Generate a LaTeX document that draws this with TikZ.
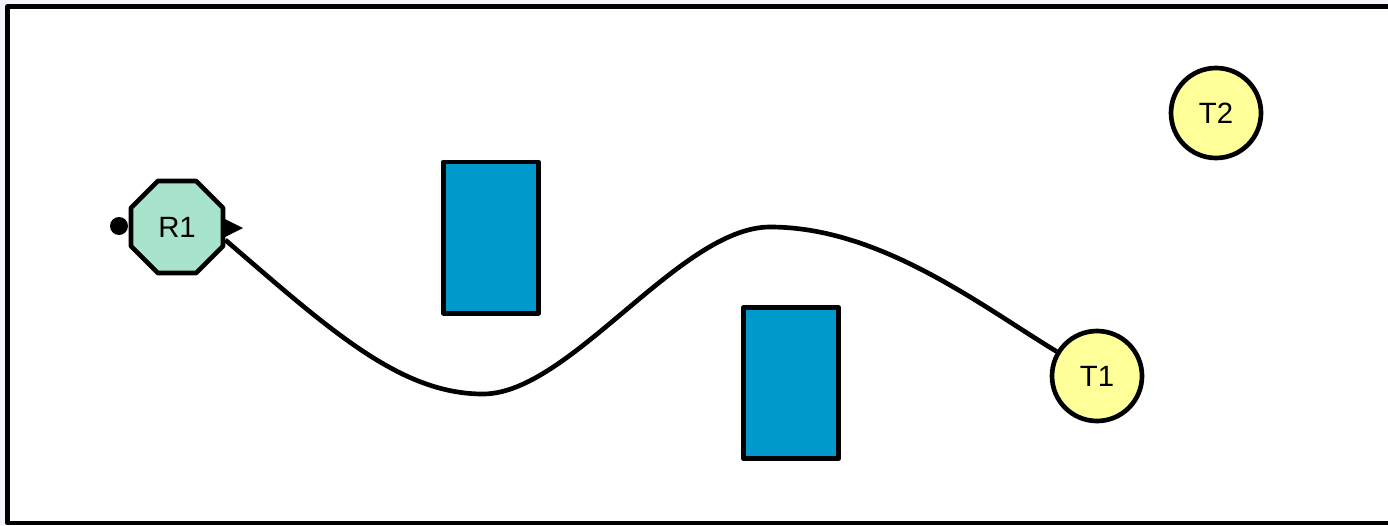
\documentclass[tikz,border=0pt]{standalone}
\usepackage{fontspec}
\setmainfont{Liberation Sans}
\usetikzlibrary{shapes.geometric}
\definecolor{canvas}{HTML}{F4F4FC}
\definecolor{robot}{HTML}{A8E4CB}
\definecolor{target}{HTML}{FFFF99}
\definecolor{block}{HTML}{0099CC}
\newcommand{\lbl}{\fontsize{22}{25}\selectfont}
\begin{document}
\begin{tikzpicture}[x=0.75pt,y=-0.75pt,font=\lbl,line join=round,
  rob/.style={regular polygon,regular polygon sides=8,draw,line width=3.5pt,fill=robot,minimum size=74.7pt,inner sep=0},
  tgt/.style={circle,draw,line width=3.5pt,fill=target,minimum size=67.5pt,inner sep=0},
  wall/.style={rectangle,draw,line width=3.5pt,fill=block,minimum width=71.25pt,minimum height=113.5pt,inner sep=0},
  route/.style={line width=3.5pt}]
\path[use as bounding box,fill=canvas] (0,0) rectangle (1388,525);
\clip (0,0) rectangle (1388,525);
% arena
\draw[line width=3.6pt,fill=white] (7.5,6.5) rectangle (1420,523);
% obstacles
\node[wall] (wallA) at (491,237.5) {};
\node[wall] (wallB) at (791,383) {};
% targets
\node[tgt] (T1) at (1097,376) {T1};
\node[tgt] (T2) at (1216,113) {T2};
% robot
\node[rob] (R1) at (177,227) {R1};
\fill (119,226) circle (9);
\fill (225,219) -- (243,228) -- (225,237) -- cycle;
% planned path
\coordinate (dip) at (483,394);
\coordinate (crest) at (770,227);
\draw[route] (R1.-15) .. controls (330,330) and (400,394) .. (dip)
  .. controls (570,394) and (680,227) .. (crest)
  .. controls (880,227) and (980,305) .. (T1);
\end{tikzpicture}
\end{document}
